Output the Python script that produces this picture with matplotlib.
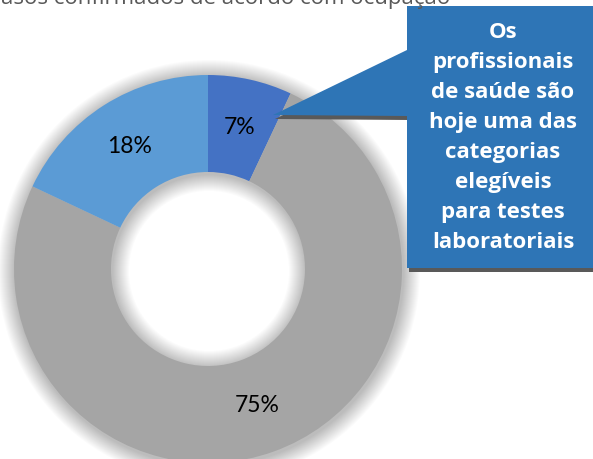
import matplotlib.pyplot as plt
from matplotlib.patches import Polygon, Wedge

# data
categories = ['Profissionais de saúde', 'Outros', 'Sem informação']
shares = [7, 75, 18]
colors = ['#4472C4', '#A5A5A5', '#5B9BD5']
title = 'Casos confirmados de acordo com ocupação'
callout_lines = ['Os', 'profissionais', 'de saúde são', 'hoje uma das',
                 'categorias', 'elegíveis', 'para testes', 'laboratoriais']

W, H = 593, 459
fig = plt.figure(figsize=(W / 100, H / 100), dpi=100)
ax = fig.add_axes([0, 0, 1, 1])

cx, cy = 208, H - 269
r_out, r_in = 194, 97

# soft shadow under the ring
for d in range(1, 18):
    ax.add_patch(Wedge((cx + 1, cy - 2), r_out + d, 0, 360, width=r_out - r_in + 2 * d,
                       facecolor='black', alpha=0.015, lw=0, zorder=0))

ax.pie(shares, colors=colors, startangle=90, counterclock=False,
       center=(cx, cy), radius=r_out,
       wedgeprops=dict(width=r_out - r_in, linewidth=0),
       autopct='%1.0f%%', pctdistance=(r_out + r_in) / 2 / r_out,
       textprops=dict(fontsize=16.5, color='black', family='Lato'))

# callout box with pointer (top-down pixel coords)
def flip(pts):
    return [(x, H - y) for x, y in pts]

box = [(407, 6), (600, 6), (600, 268), (407, 268), (407, 116), (273, 115), (407, 50)]
shadow = [(x + 2, y + 4) for x, y in box]
ax.add_patch(Polygon(flip(shadow), closed=True, facecolor='#595959', lw=0, zorder=3))
ax.add_patch(Polygon(flip(box), closed=True, facecolor='#2E75B6', lw=0, zorder=4))

for i, line in enumerate(callout_lines):
    ax.text(503, H - (38 + 30 * i), line, ha='center', va='baseline',
            fontsize=16, fontweight='bold', color='white',
            family='Open Sans', zorder=5)

ax.text(450, H - 4, title, ha='right', va='baseline', fontsize=16,
        color='#595959', family='Open Sans', zorder=5)

ax.set_xlim(0, W)
ax.set_ylim(0, H)
ax.set_aspect('auto')
ax.axis('off')

fig.savefig('out.png', dpi=100)
plt.close(fig)
